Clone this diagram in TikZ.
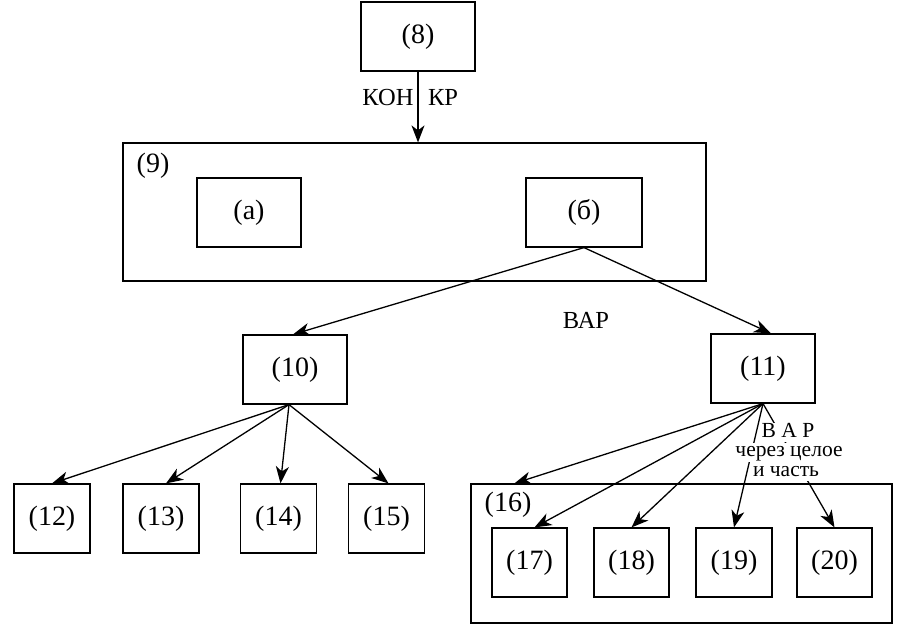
\documentclass[tikz,border=0pt]{standalone}
\usepackage{fontspec}
\setmainfont{Liberation Serif}
\usetikzlibrary{arrows.meta}
\begin{document}
\begin{tikzpicture}[x=1pt,y=-1pt,
  box/.style={draw,line width=1.2pt,inner sep=0pt,font=\fontsize{28pt}{32pt}\selectfont},
  lbl/.style={font=\fontsize{28pt}{32pt}\selectfont,inner sep=0pt},
  small/.style={font=\fontsize{24.5pt}{28pt}\selectfont,inner sep=0pt,anchor=base},
  note/.style={font=\fontsize{21.5pt}{24pt}\selectfont,inner sep=0pt,text height=14pt,text depth=5pt,fill=white,anchor=base},
  arr/.style={-{Stealth[length=17pt,width=13pt,inset=5pt]},line width=1.3pt}]
\useasboundingbox (0,0) rectangle (900,642);
% boxes
\node[box,minimum width=114pt,minimum height=69pt] (n8) at (418,36.5) {(8)};
\node[box,minimum width=583pt,minimum height=138pt] (n9) at (414.5,212) {};
\node[lbl] (t9) at (153,166) {(9)};
\node[box,minimum width=104pt,minimum height=69pt] (na) at (249,212.5) {(а)};
\node[box,minimum width=116pt,minimum height=69pt] (nb) at (584,212.5) {(б)};
\node[box,minimum width=104pt,minimum height=69pt] (n10) at (295,369.5) {(10)};
\node[box,minimum width=104pt,minimum height=69pt] (n11) at (763,368.5) {(11)};
\node[box,minimum width=76pt,minimum height=69pt] (n12) at (52,518.5) {(12)};
\node[box,minimum width=76pt,minimum height=69pt] (n13) at (161,518.5) {(13)};
\node[box,minimum width=76pt,minimum height=69pt] (n14) at (278.5,518.5) {(14)};
\node[box,minimum width=76pt,minimum height=69pt] (n15) at (386.5,518.5) {(15)};
\node[box,minimum width=421pt,minimum height=139pt] (n16) at (681.5,553.5) {};
\node[lbl] (t16) at (508,505) {(16)};
\node[box,minimum width=75pt,minimum height=69pt] (n17) at (529.5,562.5) {(17)};
\node[box,minimum width=75pt,minimum height=69pt] (n18) at (631.5,562.5) {(18)};
\node[box,minimum width=76pt,minimum height=69pt] (n19) at (734,562.5) {(19)};
\node[box,minimum width=75pt,minimum height=69pt] (n20) at (834.5,562.5) {(20)};
% labels
\node[small] (kon) at (388,105) {КОН};
\node[small] (kr) at (443,105) {КР};
\node[small] (var) at (586,328) {ВАР};
% connectors
\draw[arr] (n8.south) -- (n8.south |- n9.north);
\draw[arr] (nb.south) -- ([xshift=-2pt]n10.north);
\draw[arr] (nb.south) -- ([xshift=8pt]n11.north);
\coordinate (o10) at ([xshift=-6pt]n10.south);
\draw[arr] (o10) -- (n12.north);
\draw[arr] (o10) -- ([xshift=5pt]n13.north);
\draw[arr] (o10) -- ([xshift=2pt]n14.north);
\draw[arr] (o10) -- ([xshift=2pt]n15.north);
\coordinate (c16) at ([xshift=44pt]n16.north west);
\draw[arr] (n11.south) -- (c16);
\draw[arr] (n11.south) -- ([xshift=5pt]n17.north);
\draw[arr] (n11.south) -- (n18.north);
\draw[arr] (n11.south) -- (n19.north);
\draw[arr] (n11.south) -- (n20.north);
% label over lines to (19) and (20)
\node[note] (l1) at (788,437) {В А Р};
\node[note] (l2) at (789,456.5) {через целое};
\node[note] (l3) at (786,476) {и часть};
\end{tikzpicture}
\end{document}
